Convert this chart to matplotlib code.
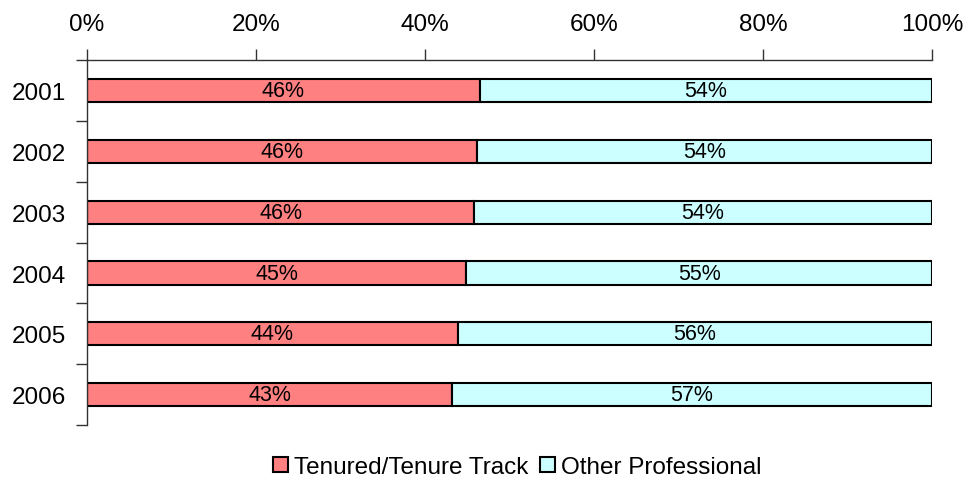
import numpy as np
import matplotlib.pyplot as plt

plt.rcParams['font.family'] = ['Liberation Sans', 'DejaVu Sans']

# Dados
years = ['2001', '2002', '2003', '2004', '2005', '2006']
tenured = [46.5, 46.1, 45.8, 44.9, 43.9, 43.2]
other = [100 - t for t in tenured]
tenured_labels = ['46%', '46%', '46%', '45%', '44%', '43%']
other_labels = ['54%', '54%', '54%', '55%', '56%', '57%']

fig = plt.figure(figsize=(9.67, 4.81), dpi=100)
ax = fig.add_axes([0.09, 0.114, 0.8738, 0.759])

y = np.arange(len(years))
b1 = ax.barh(y, tenured, height=0.38, color='#FF8080', edgecolor='black',
             linewidth=1.5, label='Tenured/Tenure Track')
b2 = ax.barh(y, other, left=tenured, height=0.38, color='#CCFFFF',
             edgecolor='black', linewidth=1.5, label='Other Professional')

for i in range(len(years)):
    ax.text(tenured[i] / 2, y[i], tenured_labels[i], ha='center', va='center', fontsize=15.5)
    ax.text(tenured[i] + other[i] / 2, y[i], other_labels[i], ha='center', va='center', fontsize=15.5)

ax.set_xlim(0, 100)
ax.set_ylim(len(years) - 0.5, -0.5)
ax.xaxis.tick_top()
ax.set_xticks(np.arange(0, 101, 20))
ax.set_xticklabels([f'{v}%' for v in range(0, 101, 20)])
ax.tick_params(axis='x', labelsize=17.5, length=8, width=1, color='#333333', pad=10)

ax.set_yticks(y)
ax.set_yticklabels(years)
ax.set_yticks(np.arange(-0.5, len(years), 1), minor=True)
ax.tick_params(axis='y', which='major', length=0, labelsize=17.5, pad=15)
ax.tick_params(axis='y', which='minor', length=8, width=1, color='#333333')

for s in ['right', 'bottom']:
    ax.spines[s].set_visible(False)
for s in ['top', 'left']:
    ax.spines[s].set_color('#333333')
    ax.spines[s].set_linewidth(1)

fig.legend(handles=[b1, b2], loc='center', bbox_to_anchor=(0.535, 0.027),
           ncol=2, frameon=False, fontsize=17.5, handlelength=0.6, handleheight=0.6,
           handletextpad=0.25, columnspacing=0.5, borderpad=0)

plt.savefig('out.png', dpi=100)
plt.close()
